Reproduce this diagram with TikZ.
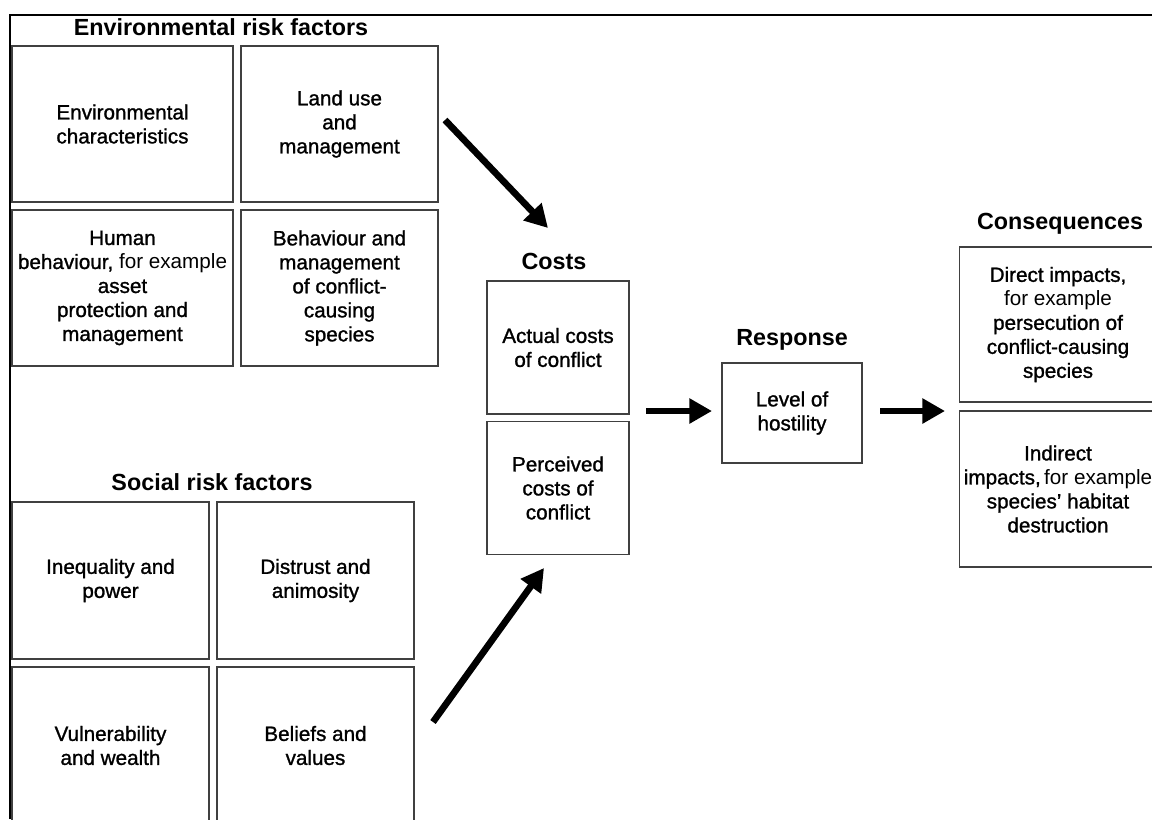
\documentclass[tikz,border=0pt]{standalone}
\usepackage{fontspec}
\setmainfont{Liberation Sans}
\newfontfamily\medfont{Liberation Sans}[FakeBold=1.2]
\usetikzlibrary{arrows.meta}

\begin{document}
\begin{tikzpicture}[x=0.75pt,y=-0.75pt,
    cell/.style={draw=black!75, line width=1.1pt, inner sep=0pt, outer sep=0pt,
      align=center, minimum width=147.75pt, minimum height=117pt,
      font=\medfont\fontsize{15.5}{18}\selectfont},
    costcell/.style={cell, minimum width=106.5pt, minimum height=100pt},
    head/.style={font=\bfseries\fontsize{17.5}{20}\selectfont},
    fat/.style={line width=5pt, -{Triangle[length=17pt,width=18pt]}}]
  \useasboundingbox (0,0) rectangle (1152,819);
  \clip (0,0) rectangle (1152,819);
  % frame
  \draw [line width=1.5pt] (9.5,819) -- (9.5,15) -- (1152,15);

  \node [head] (envtitle) at (221,27) {Environmental risk factors};
  \node [cell, minimum width=165.75pt] (envchar) at (122.5,124) {Environmental\\characteristics};
  \node [cell] (landuse) at (339.5,124) {Land use\\and\\management};
  \node [cell, minimum width=165.75pt] (humbeh) at (122.5,288)
    {Human\\behaviour, {\rmfamily for example}\\asset\\protection and\\management};
  \node [cell] (specbeh) at (339.5,288) {Behaviour and\\management\\of conflict-\\causing\\species};

  \node [head] (soctitle) at (212,482) {Social risk factors};
  \node [cell, minimum height=117.75pt] (ineq) at (110.5,580.5) {Inequality and\\power};
  \node [cell, minimum height=117.75pt] (distrust) at (315.5,580.5) {Distrust and\\animosity};
  \node [cell, minimum height=117.75pt] (vuln) at (110.5,745.5) {Vulnerability\\and wealth};
  \node [cell, minimum height=117.75pt] (beliefs) at (315.5,745.5) {Beliefs and\\values};

  \node [head] (coststitle) at (554,261) {Costs};
  \node [costcell] (actual) at (558,347.5) {Actual costs\\of conflict};
  \node [costcell] (perceived) at (558,488) {Perceived\\costs of\\conflict};

  \node [head] (resptitle) at (792,340) {Response};
  \node [costcell, minimum width=105pt, minimum height=75pt] (hostility) at (792,413) {Level of\\hostility};

  \node [head] (constitle) at (1060,224) {Consequences};
  \node [cell, minimum height=116.25pt] (direct) at (1058,324.5)
    {Direct impacts,\\{\rmfamily for example}\\persecution of\\conflict-causing\\species};
  \node [cell] (indirect) at (1058,489)
    {Indirect\\impacts,\,{\rmfamily for example}\\species’ habitat\\destruction};

  \coordinate (envout) at (445,120);
  \coordinate (costin1) at (548,228);
  \coordinate (socout) at (433,722);
  \coordinate (costin2) at (544,568);
  \coordinate (costout) at (646,411);
  \coordinate (respin) at (712,411);
  \coordinate (respout) at (880,411);
  \coordinate (consin) at (945,411);
  \draw [fat] (envout) -- (costin1);
  \draw [fat] (socout) -- (costin2);
  \draw [fat] (costout) -- (respin);
  \draw [fat] (respout) -- (consin);
\end{tikzpicture}
\end{document}
